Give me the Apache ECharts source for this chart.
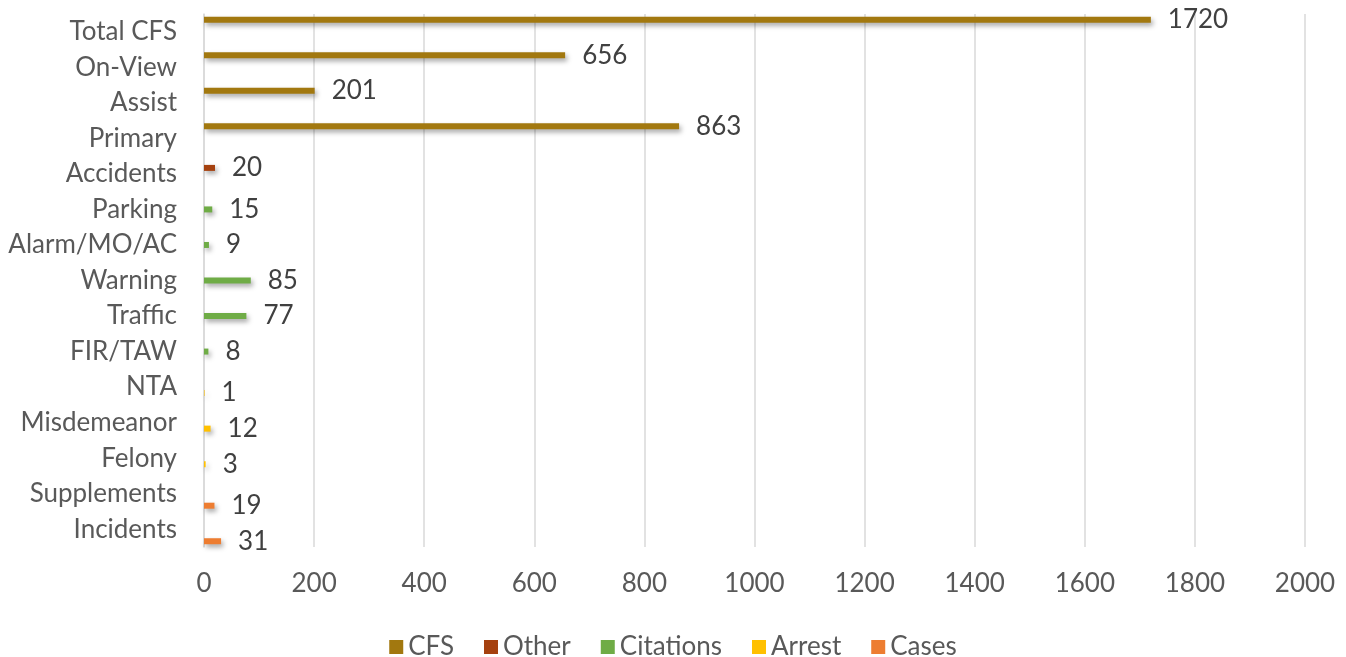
<!DOCTYPE html>
<html>
<head>
<meta charset="utf-8">
<script src="https://cdn.jsdelivr.net/npm/echarts@6/dist/echarts.min.js"></script>
<style>
html,body{margin:0;padding:0;background:#fff;}
#main{width:1346px;height:657px;}
</style>
</head>
<body>
<div id="main"></div>
<script>
const categories = ['Total CFS','On-View','Assist','Primary','Accidents','Parking','Alarm/MO/AC','Warning','Traffic','FIR/TAW','NTA','Misdemeanor','Felony','Supplements','Incidents'];
const cfsValues       = [1720, 656, 201, 863, null, null, null, null, null, null, null, null, null, null, null];
const otherValues     = [null, null, null, null, 20, null, null, null, null, null, null, null, null, null, null];
const citationValues  = [null, null, null, null, null, 15, 9, 85, 77, 8, null, null, null, null, null];
const arrestValues    = [null, null, null, null, null, null, null, null, null, null, 1, 12, 3, null, null];
const casesValues     = [null, null, null, null, null, null, null, null, null, null, null, null, null, 19, 31];
const seriesNames = ['CFS','Other','Citations','Arrest','Cases'];
const xTicks = [0,200,400,600,800,1000,1200,1400,1600,1800,2000];

const colors = ['#A2780F','#A5410F','#6FAC46','#FFC000','#ED7D31'];
const FONT = 'Lato';
const chart = echarts.init(document.getElementById('main'));
const allData = [cfsValues, otherValues, citationValues, arrestValues, casesValues];
chart.setOption({
  animation:false,
  textStyle:{fontFamily:FONT},
  grid:{left:204,right:41,top:14,bottom:110,containLabel:false},
  legend:{
    bottom:-8, left:'center', itemWidth:14, itemHeight:14, itemGap:30,
    icon:'rect',
    textStyle:{fontFamily:FONT,fontSize:26,color:'#595959'},
    data:seriesNames
  },
  xAxis:{
    type:'value', min:xTicks[0], max:xTicks[xTicks.length-1], interval:200,
    axisLine:{show:false}, axisTick:{show:false},
    splitLine:{lineStyle:{color:'#d9d9d9',width:1.5}},
    axisLabel:{fontFamily:FONT,fontSize:26,color:'#595959',margin:24,formatter:v=>String(v)}
  },
  yAxis:{
    type:'category', data:categories, inverse:true,
    axisLine:{show:true,lineStyle:{color:'#d9d9d9',width:1.5}},
    axisTick:{show:false},
    axisLabel:{fontFamily:FONT,fontSize:26,color:'#595959',margin:27}
  },
  series: seriesNames.map((n,i)=>({
    name:n, type:'bar', data:allData[i], barWidth:6, barGap:'0%',
    itemStyle:{color:colors[i],shadowColor:'rgba(0,0,0,0.35)',shadowBlur:5,shadowOffsetX:2,shadowOffsetY:3},
    label:{show:true,position:'right',distance:17,fontFamily:FONT,fontSize:26,color:'#404040',
      formatter:p=> (p.value==null?'':p.value)}
  }))
});
</script>
</body>
</html>
